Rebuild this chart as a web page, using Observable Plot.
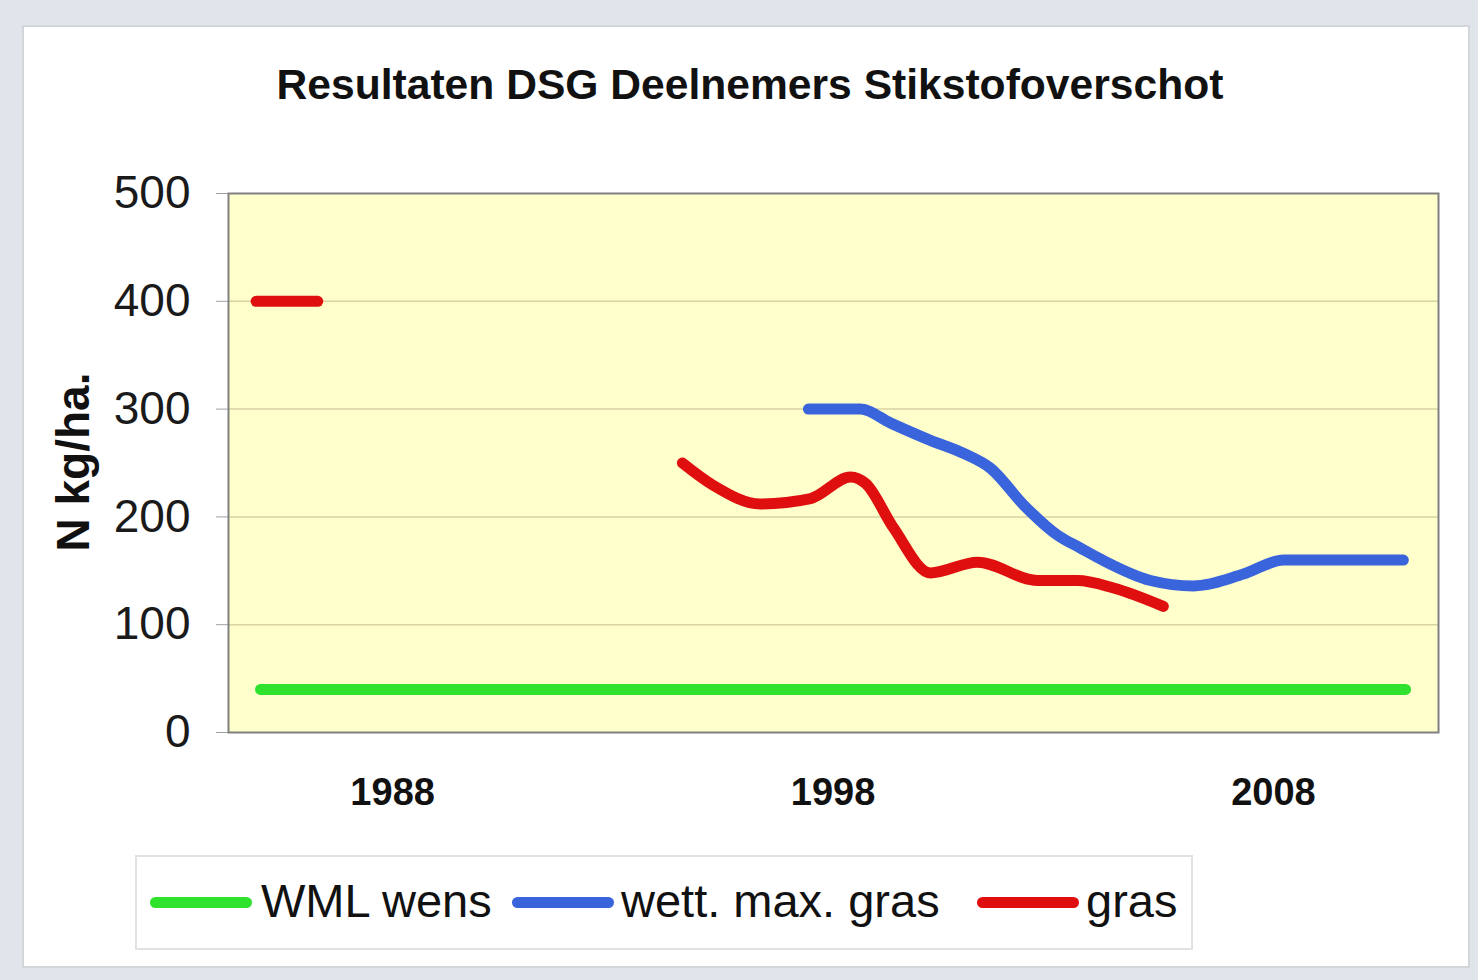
<!DOCTYPE html>
<html>
<head>
<meta charset="utf-8">
<script src="https://cdn.jsdelivr.net/npm/d3@7"></script>
<script src="https://cdn.jsdelivr.net/npm/@observablehq/plot@0.6"></script>
<style>
  html, body { margin: 0; padding: 0; }
  body { width: 1478px; height: 980px; background: #dfe5eb; position: relative; overflow: hidden;
         font-family: "Liberation Sans", Arial, sans-serif; color: #111; }
  #panel { position: absolute; left: 22px; top: 25px; width: 1448px; height: 943px; background: #fff;
           border: 2px solid #d3d6d9; box-sizing: border-box; }
  #title { position: absolute; left: 250px; width: 1000px; top: 59px; text-align: center;
           font-weight: bold; font-size: 42.6px; line-height: 50px; color: #111; white-space: nowrap; }
  #chart { position: absolute; left: 0; top: 0; }
  #ylabel { position: absolute; left: 73px; top: 462px; transform: translate(-50%, -50%) rotate(-90deg);
            font-weight: bold; font-size: 46px; line-height: 50px; white-space: nowrap; }
  #legend { position: absolute; left: 135px; top: 855px; width: 1058px; height: 95px;
            border: 2px solid #e2e2e2; box-sizing: border-box; background: #fff; }
  .sw { position: absolute; height: 11px; width: 102px; border-radius: 5.5px; top: 40px; }
  .lt { position: absolute; top: 19px; font-size: 47px; line-height: 50px; white-space: nowrap; color: #111; }
</style>
</head>
<body>
<div id="panel"></div>
<div id="title">Resultaten DSG Deelnemers Stikstofoverschot</div>
<div id="chart"></div>
<div id="ylabel">N kg/ha.</div>
<div id="legend"></div>
<script>
// ---- data ----
const seriesNames = ["WML wens", "wett. max. gras", "gras"];
const seriesColors = ["#2ee22e", "#3a64dc", "#e00f0f"];

const wmlYears = [1985, 2011];
const wmlValues = [40, 40];

const wettMaxYears = [1997.44, 1998.62, 1999.31, 2000.21, 2000.96, 2001.58, 2002.33, 2003.10, 2003.62, 2004.07, 2005.21, 2006.19, 2007.32, 2008.23, 2010.95];
const wettMaxValues = [300, 300, 287, 271, 259, 245, 211, 183, 171, 161, 141, 136, 147, 160, 160];

const grasEarlyYears = [1984.9, 1986.3];
const grasEarlyValues = [400, 400];

const grasYears = [1994.58, 1995.29, 1996.35, 1997.49, 1998.40, 1998.74, 1999.37, 2000.21, 2001.28, 2002.64, 2003.55, 2004.37, 2005.50];
const grasValues = [250, 229, 212, 217, 237, 231, 190, 148, 158, 141, 141, 134, 117];

const xTicks = [1988, 1998, 2008];
const yTicks = [0, 100, 200, 300, 400, 500];

// ---- table for the library ----
const rows = [];
function addSeg(series, seg, years, values) {
  years.forEach((yr, i) => rows.push({series, segment: seg, year: yr, value: values[i]}));
}
addSeg(seriesNames[0], "wml", wmlYears, wmlValues);
addSeg(seriesNames[1], "wett", wettMaxYears, wettMaxValues);
addSeg(seriesNames[2], "gras0", grasEarlyYears, grasEarlyValues);
addSeg(seriesNames[2], "gras1", grasYears, grasValues);

const chart = Plot.plot({
  width: 1478,
  height: 840,
  marginLeft: 228,
  marginRight: 40,
  marginTop: 193,
  marginBottom: 108,
  style: { background: "transparent", fontFamily: "'Liberation Sans', Arial, sans-serif", color: "#111" },
  x: { domain: [1984.273, 2011.748] },
  y: { domain: [0, 500] },
  color: { domain: seriesNames, range: seriesColors },
  marks: [
    Plot.frame({ fill: "#ffffcc", stroke: null }),
    Plot.gridY(yTicks.filter(d => d > 0 && d < 500), { stroke: "#d8d2a4", strokeOpacity: 1, strokeWidth: 1.5 }),
    Plot.axisY(yTicks, { tickSize: 12, tickPadding: 26, fontSize: 46, label: null, stroke: "#a0a0a0", fill: "#1a1a1a" }),
    Plot.axisX(xTicks, { tickSize: 0, tickPadding: 46, fontSize: 38, fontWeight: "bold", label: null,
                         tickFormat: d => String(d), fill: "#111" }),
    Plot.line(rows, { x: "year", y: "value", z: "segment", stroke: "series", strokeWidth: 11,
                      curve: "monotone-x", strokeLinecap: "round", strokeLinejoin: "round" }),
    Plot.frame({ stroke: "#808080", strokeWidth: 2 })
  ]
});
document.getElementById("chart").appendChild(chart);

// ---- legend ----
const legend = document.getElementById("legend");
const swLeft = [13, 375, 840];
const txLeft = [124, 484, 949];
seriesNames.forEach((name, i) => {
  const sw = document.createElement("div");
  sw.className = "sw";
  sw.style.left = swLeft[i] + "px";
  sw.style.background = seriesColors[i];
  legend.appendChild(sw);
  const tx = document.createElement("div");
  tx.className = "lt";
  tx.style.left = txLeft[i] + "px";
  tx.textContent = name;
  legend.appendChild(tx);
});
</script>
</body>
</html>
